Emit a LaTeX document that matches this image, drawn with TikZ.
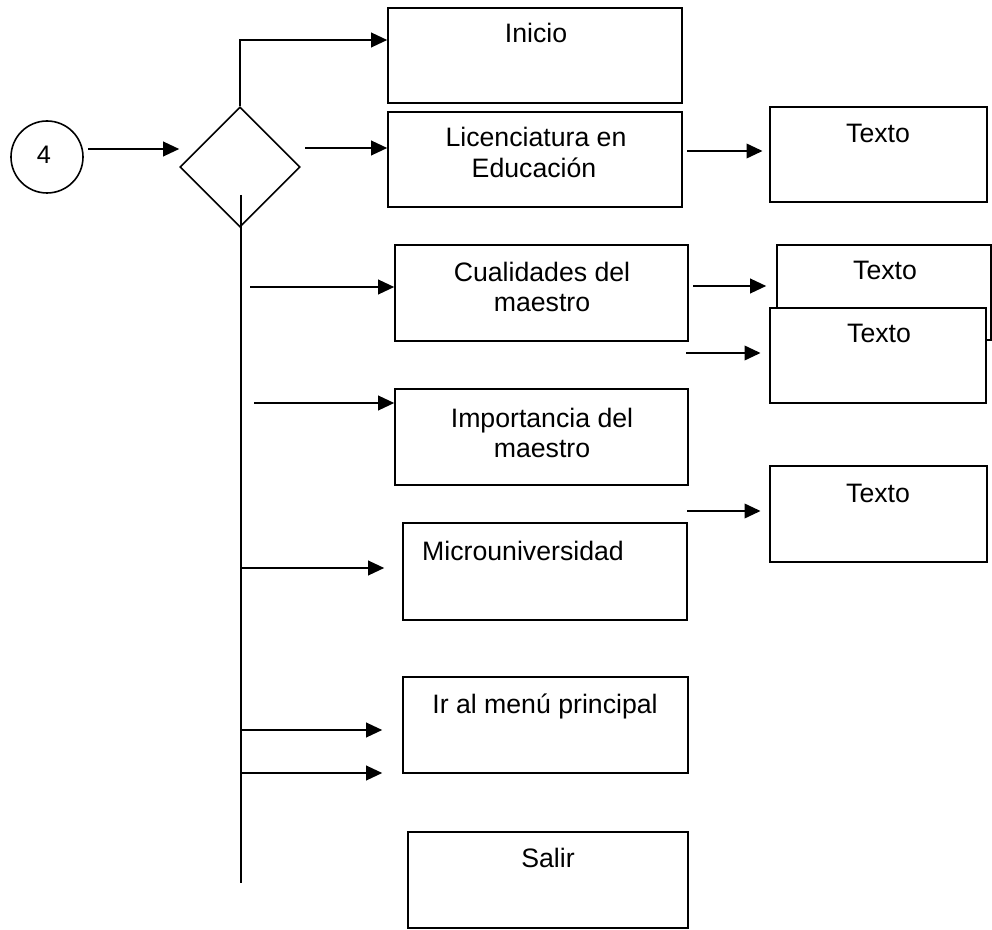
\documentclass[tikz,border=0pt]{standalone}
\usepackage{fontspec}
\setmainfont{Liberation Sans}
\usetikzlibrary{arrows.meta,shapes.geometric}
\newcommand\flowbox[5]{\node[box, minimum width={(#4-#2)*0.75pt}, minimum height={(#5-#3)*0.75pt}] (#1) at ({(#2+#4)/2},{(#3+#5)/2}) {};}
\begin{document}
\begin{tikzpicture}[x=0.75pt,y=-0.75pt, line width=1.2pt,
  box/.style={draw, rectangle, inner sep=0pt, fill=white},
  lbl/.style={anchor=base, inner sep=0pt, font=\fontsize{20}{23}\selectfont, align=center},
  arr/.style={-{Triangle[length=12pt,width=11pt]}},
]
\useasboundingbox (0,0) rectangle (992,930);

% start circle and decision
\node[circle, draw, minimum size=54pt, inner sep=0pt] (c4) at (47,157) {};
\node[lbl, font=\fontsize{19}{22}\selectfont] (t4) at (44,164) {4};
\node[diamond, draw, minimum width=90pt, minimum height=90pt, inner sep=0pt] (dec) at (240,167) {};

% boxes
\flowbox{inicio}{388}{8}{682}{103}
\flowbox{lic}{388}{112}{682}{207}
\flowbox{texto1}{770}{107}{987}{202}
\flowbox{cual}{395}{245}{688}{341}
\flowbox{texto2}{777}{245}{991}{340}
\flowbox{texto3}{770}{308}{986}{403}
\flowbox{imp}{395}{389}{688}{485}
\flowbox{texto4}{770}{466}{987}{562}
\flowbox{micro}{403}{523}{687}{620}
\flowbox{menu}{403}{677}{688}{773}
\flowbox{salir}{408}{832}{688}{928}

% labels
\node[lbl] (tinicio) at (536,43) {Inicio};
\node[lbl] (tlic1) at (536,147) {Licenciatura en};
\node[lbl] (tlic2) at (534,178) {Educación};
\node[lbl] (tt1) at (878,143) {Texto};
\node[lbl] (tcual1) at (542,282) {Cualidades del};
\node[lbl] (tcual2) at (542,312) {maestro};
\node[lbl] (tt2) at (885,280) {Texto};
\node[lbl] (tt3) at (879,343) {Texto};
\node[lbl] (timp1) at (542,427) {Importancia del};
\node[lbl] (timp2) at (542,457) {maestro};
\node[lbl] (tt4) at (878,502) {Texto};
\node[lbl] (tmicro) at (523,560) {Microuniversidad};
\node[lbl] (tmenu) at (545,713) {Ir al menú principal};
\node[lbl] (tsalir) at (548,867) {Salir};

% free ends
\coordinate (s0) at (88,149);
\coordinate (j1) at (240,40);
\coordinate (s1) at (305,148);
\coordinate (vtop) at (241,195);
\coordinate (vbot) at (241,883);
\coordinate (s2) at (687,151);
\coordinate (s3) at (250,287);
\coordinate (s4) at (693,286);
\coordinate (s5) at (686,353);
\coordinate (s6) at (254,403);
\coordinate (s7) at (687,511);
\coordinate (s8) at (241,568);
\coordinate (s9) at (241,730);
\coordinate (s10) at (241,773);

% connectors
\draw[arr] (s0) -- (dec.west |- s0);
\draw[arr] (dec.north) -- (j1) -- (inicio.west |- j1);
\draw[arr] (s1) -- (lic.west |- s1);
\draw (vtop) -- (vbot);
\draw[arr, shorten >=5pt] (s2) -- (texto1.west |- s2);
\draw[arr] (s3) -- (cual.west |- s3);
\draw[arr, shorten >=7.5pt] (s4) -- (texto2.west |- s4);
\draw[arr, shorten >=6.5pt] (s5) -- (texto3.west |- s5);
\draw[arr] (s6) -- (imp.west |- s6);
\draw[arr, shorten >=6.5pt] (s7) -- (texto4.west |- s7);
\draw[arr, shorten >=13.5pt] (s8) -- (micro.west |- s8);
\draw[arr, shorten >=15pt] (s9) -- (menu.west |- s9);
\draw[arr, shorten >=15pt] (s10) -- (menu.west |- s10);
\end{tikzpicture}
\end{document}
